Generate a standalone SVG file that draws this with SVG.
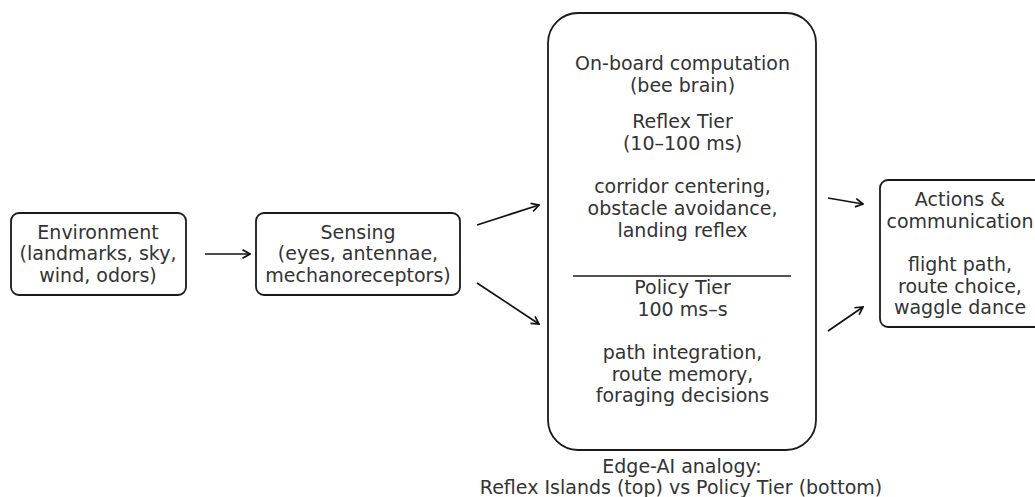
<svg xmlns="http://www.w3.org/2000/svg" width="1035" height="497" viewBox="0 0 1035 497">
  <style>
    .box { fill: #ffffff; stroke: #1a1a1a; stroke-width: 1.8; }
    .lbl { font-family: "DejaVu Sans", sans-serif; font-size: 19px; fill: #333333; text-anchor: middle; }
    .conn { stroke: #111111; stroke-width: 1.7; fill: none; marker-end: url(#arrow); }
  </style>
  <defs>
    <marker id="arrow" viewBox="0 0 10 10" refX="9" refY="5" markerWidth="10" markerHeight="10" markerUnits="userSpaceOnUse" orient="auto">
      <path d="M1.5,0.8 L9,5 L1.5,9.2" fill="none" stroke="#111111" stroke-width="1.7"/>
    </marker>
  </defs>
  <rect width="1035" height="497" fill="#ffffff"/>

  <g id="environment">
    <rect class="box" x="11" y="213" width="175" height="82" rx="8"/>
    <text class="lbl" x="98" y="238.5">Environment</text>
    <text class="lbl" x="98" y="260">(landmarks, sky,</text>
    <text class="lbl" x="98" y="281.7">wind, odors)</text>
  </g>

  <g id="sensing">
    <rect class="box" x="256" y="213" width="204" height="82" rx="8"/>
    <text class="lbl" x="358" y="238.5">Sensing</text>
    <text class="lbl" x="358" y="260">(eyes, antennae,</text>
    <text class="lbl" x="358" y="281.7">mechanoreceptors)</text>
  </g>

  <g id="brain">
    <rect class="box" x="548" y="13" width="268" height="437" rx="30"/>
    <text class="lbl" x="682.5" y="70">On-board computation</text>
    <text class="lbl" x="682.5" y="91.7">(bee brain)</text>
    <text class="lbl" x="682.5" y="128.3">Reflex Tier</text>
    <text class="lbl" x="682.5" y="150">(10–100 ms)</text>
    <text class="lbl" x="682.5" y="193.4">corridor centering,</text>
    <text class="lbl" x="682.5" y="215.1">obstacle avoidance,</text>
    <text class="lbl" x="682.5" y="236.8">landing reflex</text>
    <line x1="573" y1="276" x2="791" y2="276" stroke="#1a1a1a" stroke-width="1.6"/>
    <text class="lbl" x="682.5" y="294">Policy Tier</text>
    <text class="lbl" x="682.5" y="315.7">100 ms–s</text>
    <text class="lbl" x="682.5" y="359">path integration,</text>
    <text class="lbl" x="682.5" y="380.7">route memory,</text>
    <text class="lbl" x="682.5" y="402.4">foraging decisions</text>
  </g>

  <g id="caption">
    <text class="lbl" x="682" y="473.3">Edge-AI analogy:</text>
    <text class="lbl" x="681" y="493.5">Reflex Islands (top) vs Policy Tier (bottom)</text>
  </g>

  <g id="actions">
    <rect class="box" x="880" y="180" width="170" height="147" rx="8"/>
    <text class="lbl" x="960" y="206">Actions &amp;</text>
    <text class="lbl" x="960" y="227.7">communication</text>
    <text class="lbl" x="960" y="271">flight path,</text>
    <text class="lbl" x="960" y="292.7">route choice,</text>
    <text class="lbl" x="960" y="314.4">waggle dance</text>
  </g>

  <g id="connectors">
    <line class="conn" x1="205" y1="254" x2="250" y2="254"/>
    <line class="conn" x1="477" y1="225" x2="539" y2="205"/>
    <line class="conn" x1="477" y1="283" x2="539" y2="324"/>
    <line class="conn" x1="828" y1="198" x2="863" y2="204"/>
    <line class="conn" x1="828" y1="331" x2="863" y2="307"/>
  </g>
</svg>
